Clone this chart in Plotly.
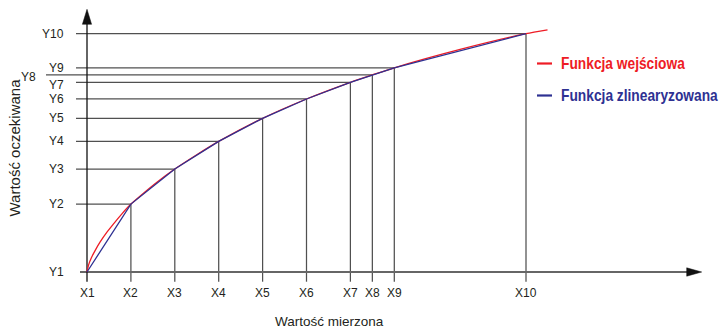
import plotly.graph_objects as go

# ---- data ----
X_LABELS = ["X1", "X2", "X3", "X4", "X5", "X6", "X7", "X8", "X9", "X10"]
Y_LABELS = ["Y1", "Y2", "Y3", "Y4", "Y5", "Y6", "Y7", "Y8", "Y9", "Y10"]
X_VALS = [0, 1, 2, 3, 4, 5, 6, 6.5, 7, 10]
Y_VALS = [0, 2.85, 4.32, 5.48, 6.45, 7.26, 7.96, 8.27, 8.57, 10.0]

# input (non-linear) function
RED_X = [0, 0.04, 0.1, 0.2, 0.3, 0.45, 0.6, 0.8, 1.0, 1.3, 1.6, 2, 2.5, 3, 4, 5, 6, 6.5, 7,
         8.5, 10, 10.49]
RED_Y = [0, 0.32, 0.60, 0.95, 1.26, 1.66, 2.01, 2.45, 2.85, 3.33, 3.78, 4.32, 4.92, 5.48,
         6.45, 7.26, 7.96, 8.27, 8.57, 9.34, 10.0, 10.16]

SERIES_NAMES = ["Funkcja wejściowa", "Funkcja zlinearyzowana"]
X_TITLE = "Wartość mierzona"
Y_TITLE = "Wartość oczekiwana"

# ---- styling / layout constants ----
W, H = 719, 328
X0_PX, X_SCALE = 87.0, 43.9     # pixel of x=0, pixels per x unit
Y0_PX, Y_SCALE = 272.0, 23.83   # pixel of y=0, pixels per y unit
RED = "#ee1c25"
BLUE = "#2e3192"
GRID = "#505050"
TXT = "#231f20"
FONT = "Liberation Sans, Arial, sans-serif"
BOLD = "Liberation Sans, Arial, sans-serif"

xr = [-X0_PX / X_SCALE, (W - X0_PX) / X_SCALE]
yr = [-(H - Y0_PX) / Y_SCALE, Y0_PX / Y_SCALE]

def dx(px):  # pixel length -> x units
    return px / X_SCALE

def dy(px):  # pixel length -> y units
    return px / Y_SCALE

fig = go.Figure()
shapes = []
annotations = []

# guide lines: horizontal from left of axis to point, vertical from point to below axis
below = -dy(9.7)
for i, (xv, yv) in enumerate(zip(X_VALS, Y_VALS)):
    if i == 0:
        continue
    left = -dx(41) if Y_LABELS[i] == "Y8" else -dx(11)
    shapes.append(dict(type="line", xref="x", yref="y", x0=left, x1=xv, y0=yv, y1=yv,
                       line=dict(color=GRID, width=1.25), layer="below"))
    shapes.append(dict(type="line", xref="x", yref="y", x0=xv, x1=xv, y0=yv, y1=below,
                       line=dict(color=GRID, width=1.25), layer="below"))

# x axis (Y1 line) with arrow
x_tip = xr[1] - dx(17.3)
shapes.append(dict(type="line", xref="x", yref="y", x0=-dx(7), x1=x_tip - dx(14), y0=0, y1=0,
                   line=dict(color="#666666", width=1.8), layer="below"))
shapes.append(dict(type="path", xref="x", yref="y",
                   path=f"M {x_tip} 0 L {x_tip - dx(15)} {dy(4.2)} L {x_tip - dx(15)} {-dy(4.2)} Z",
                   fillcolor="#111111", line=dict(color="#111111", width=0.5)))
# y axis with arrow
y_tip = yr[1] - dy(9.3)
shapes.append(dict(type="line", xref="x", yref="y", x0=0, x1=0, y0=below, y1=y_tip - dy(14),
                   line=dict(color="#111111", width=1.3), layer="below"))
shapes.append(dict(type="path", xref="x", yref="y",
                   path=f"M 0 {y_tip} L {-dx(4.6)} {y_tip - dy(15)} L {dx(4.6)} {y_tip - dy(15)} Z",
                   fillcolor="#111111", line=dict(color="#111111", width=0.5)))

# curves
fig.add_trace(go.Scatter(x=RED_X, y=RED_Y, mode="lines", name=SERIES_NAMES[0],
                         line=dict(color=RED, width=1.3, shape="spline", smoothing=0.6),
                         showlegend=False, hoverinfo="skip"))
fig.add_trace(go.Scatter(x=X_VALS, y=Y_VALS, mode="lines", name=SERIES_NAMES[1],
                         line=dict(color=BLUE, width=1.3),
                         showlegend=False, hoverinfo="skip"))

# tick labels
for xv, lab in zip(X_VALS, X_LABELS):
    annotations.append(dict(x=xv, y=0, xref="x", yref="y", text=lab, showarrow=False,
                            yshift=-21, xanchor="center", yanchor="middle",
                            font=dict(family=FONT, size=12, color=TXT)))
for yv, lab in zip(Y_VALS, Y_LABELS):
    xs, ys = -21, 0
    if lab == "Y8":
        xs, ys = -49, -2
    elif lab == "Y7":
        ys = -3
    annotations.append(dict(x=0, y=yv, xref="x", yref="y", text=lab, showarrow=False,
                            xshift=xs, yshift=ys, xanchor="right", yanchor="middle",
                            font=dict(family=FONT, size=12, color=TXT)))

# axis titles
annotations.append(dict(x=329 / W, y=1 - 321 / H, xref="paper", yref="paper", text=X_TITLE,
                        showarrow=False, xanchor="center", yanchor="middle",
                        font=dict(family=FONT, size=13.5, color=TXT)))
annotations.append(dict(x=14 / W, y=1 - 147.5 / H, xref="paper", yref="paper", text=Y_TITLE,
                        showarrow=False, textangle=-90, xanchor="center", yanchor="middle",
                        font=dict(family=FONT, size=15, color=TXT)))

# legend (custom)
for name, col, ypx in zip(SERIES_NAMES, [RED, BLUE], [63.5, 95.5]):
    shapes.append(dict(type="line", xref="paper", yref="paper", x0=537 / W, x1=552 / W,
                       y0=1 - ypx / H, y1=1 - ypx / H, line=dict(color=col, width=2.2)))
    annotations.append(dict(x=559 / W, y=1 - ypx / H, xref="paper", yref="paper",
                            text=f"<b>{name}</b>", showarrow=False, xanchor="left",
                            yanchor="middle", font=dict(family=BOLD, size=16, color=col)))

fig.update_layout(
    width=W, height=H, autosize=False,
    margin=dict(l=0, r=0, t=0, b=0, pad=0),
    paper_bgcolor="white", plot_bgcolor="white",
    xaxis=dict(range=xr, visible=False, fixedrange=True),
    yaxis=dict(range=yr, visible=False, fixedrange=True),
    shapes=shapes, annotations=annotations, showlegend=False,
)

# remove page margin; draw the legend labels in a narrow (condensed) style like the original
POST = """
document.body.style.margin='0px';
document.body.style.overflow='hidden';
document.querySelectorAll('.annotation-text').forEach(function(t){
  if (t.textContent.indexOf('Funkcja') === 0) {
    t.style.transformBox = 'fill-box';
    t.style.transformOrigin = 'left center';
    t.style.transform = 'scaleX(0.86)';
  }
});
"""

fig.write_html("out.html", config={"displayModeBar": False}, post_script=POST)
